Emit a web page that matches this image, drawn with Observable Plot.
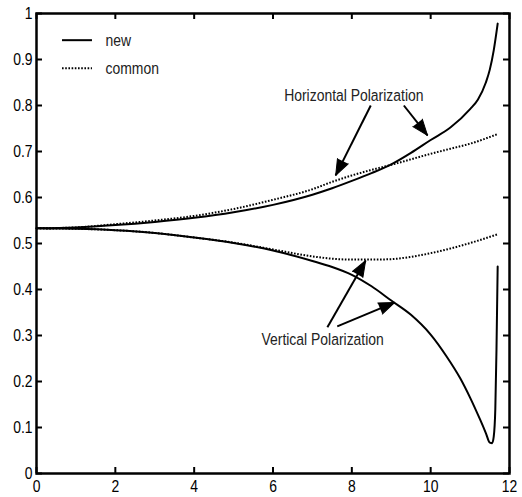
<!DOCTYPE html>
<html><head><meta charset="utf-8">
<script src="https://cdn.jsdelivr.net/npm/d3@7"></script>
<script src="https://cdn.jsdelivr.net/npm/@observablehq/plot@0.6"></script>
<style>body{margin:0;background:#fff}</style>
</head><body><div id="chart"></div>
<script>
// Horizontal polarization, new formula
const hNewX = [0, 1, 2, 3, 4, 5, 6, 7, 7.5, 8, 8.5, 9, 9.5, 10, 10.5, 11, 11.2, 11.4, 11.5, 11.6, 11.7];
const hNewY = [0.533, 0.535, 0.540, 0.547, 0.556, 0.568, 0.584, 0.606, 0.620, 0.636, 0.653, 0.672, 0.697, 0.725, 0.752, 0.792, 0.813, 0.850, 0.878, 0.920, 0.978];
// Horizontal polarization, common formula
const hComX = [0, 1, 2, 3, 4, 5, 6, 7, 7.5, 8, 8.5, 9, 9.5, 10, 10.5, 11, 11.7];
const hComY = [0.533, 0.535, 0.542, 0.550, 0.560, 0.575, 0.595, 0.618, 0.634, 0.648, 0.660, 0.671, 0.683, 0.695, 0.706, 0.717, 0.738];
// Vertical polarization, new formula
const vNewX = [0, 1, 2, 3, 4, 5, 6, 7, 7.5, 8, 8.5, 9, 9.5, 10, 10.4, 10.75, 11, 11.25, 11.4, 11.5, 11.56, 11.6, 11.64, 11.67, 11.7];
const vNewY = [0.533, 0.532, 0.529, 0.523, 0.513, 0.501, 0.485, 0.462, 0.449, 0.432, 0.407, 0.376, 0.345, 0.302, 0.255, 0.207, 0.165, 0.118, 0.088, 0.067, 0.066, 0.080, 0.140, 0.270, 0.450];
// Vertical polarization, common formula
const vComX = [0, 1, 2, 3, 4, 5, 6, 7, 7.5, 8, 8.5, 9, 9.5, 10, 10.5, 11, 11.7];
const vComY = [0.533, 0.532, 0.529, 0.523, 0.513, 0.502, 0.487, 0.472, 0.467, 0.465, 0.465, 0.466, 0.471, 0.479, 0.489, 0.501, 0.520];

const xTicks = [0, 2, 4, 6, 8, 10, 12];
const yTicks = [0, 0.1, 0.2, 0.3, 0.4, 0.5, 0.6, 0.7, 0.8, 0.9, 1];
const legendLabels = ["new", "common"];
const annotationLabels = ["Horizontal Polarization", "Vertical Polarization"];

const W = 522, H = 497;
const mL = 36, mR = 13, mT = 13, mB = 24;
const pw = W - mL - mR, ph = H - mT - mB;
const kx = pw / 12, ky = ph / 1;

const zip = (xs, ys) => xs.map((x, i) => ({x, y: ys[i]}));
const solidStyle = {stroke: "black", strokeWidth: 2};
const dotStyle = {stroke: "black", strokeWidth: 2, strokeDasharray: "1.6,1.6", strokeLinecap: "butt"};

// annotation arrows (data coords)
const arrows = [
  {x1: 8.48, y1: 0.800, x2: 7.59, y2: 0.648},
  {x1: 9.32, y1: 0.800, x2: 9.92, y2: 0.735},
  {x1: 7.38, y1: 0.318, x2: 8.35, y2: 0.463},
  {x1: 7.63, y1: 0.320, x2: 9.09, y2: 0.372}
].map(a => ({...a, rot: Math.atan2((a.x2 - a.x1) * kx, (a.y2 - a.y1) * ky) * 180 / Math.PI}));

const labels = [
  {x: 8.05, y: 0.822, text: annotationLabels[0]},
  {x: 7.26, y: 0.291, text: annotationLabels[1]}
];

const legendY = [0.942, 0.881];

const chart = Plot.plot({
  width: W, height: H,
  marginLeft: mL, marginRight: mR, marginTop: mT, marginBottom: mB,
  style: {fontFamily: "'Liberation Sans', Arial, sans-serif", fontSize: "17px", background: "white", color: "black"},
  x: {domain: [0, 12], label: null},
  y: {domain: [0, 1], label: null},
  marks: [
    Plot.axisX({ticks: xTicks, tickSize: 0, tickPadding: 6, fontSize: 17, label: null}),
    Plot.axisY({ticks: yTicks, tickSize: 0, tickPadding: 4, fontSize: 17, label: null, tickFormat: d => String(d)}),
    Plot.tickX(xTicks, {x: d => d, insetTop: ph - 6, stroke: "black", strokeWidth: 2}),
    Plot.tickX(xTicks, {x: d => d, insetBottom: ph - 6, stroke: "black", strokeWidth: 2}),
    Plot.tickY(yTicks, {y: d => d, insetRight: pw - 6, stroke: "black", strokeWidth: 2}),
    Plot.tickY(yTicks, {y: d => d, insetLeft: pw - 6, stroke: "black", strokeWidth: 2}),
    Plot.line(zip(hComX, hComY), {x: "x", y: "y", curve: "monotone-x", ...dotStyle}),
    Plot.line(zip(vComX, vComY), {x: "x", y: "y", curve: "monotone-x", ...dotStyle}),
    Plot.line(zip(hNewX, hNewY), {x: "x", y: "y", curve: "monotone-x", ...solidStyle}),
    Plot.line(zip(vNewX, vNewY), {x: "x", y: "y", curve: "monotone-x", ...solidStyle}),
    Plot.link(arrows, {x1: "x1", y1: "y1", x2: "x2", y2: "y2", stroke: "black", strokeWidth: 2}),
    Plot.vector(arrows, {x: "x2", y: "y2", rotate: "rot", length: 16, shape: "spike", r: 6, anchor: "end", fill: "black", stroke: "black", strokeWidth: 1}),
    Plot.text(labels, {x: "x", y: "y", text: "text", fontSize: 17, fill: "#222"}),
    Plot.ruleY([legendY[0]], {x1: 0.66, x2: 1.42, stroke: "black", strokeWidth: 2}),
    Plot.ruleY([legendY[1]], {x1: 0.66, x2: 1.42, ...dotStyle}),
    Plot.text(legendLabels, {x: 1.75, y: (d, i) => legendY[i], text: d => d, textAnchor: "start", fontSize: 17, fill: "#222"}),
    Plot.frame({stroke: "black", strokeWidth: 2.5})
  ]
});
// narrow the sans-serif glyphs horizontally, as in the reference
chart.querySelectorAll("text").forEach(t => {
  const tr = t.getAttribute("transform");
  if (tr) {
    t.setAttribute("transform", tr + " scale(0.82,1)");
  } else {
    const x = +(t.getAttribute("x") || 0), y = +(t.getAttribute("y") || 0);
    t.removeAttribute("x"); t.removeAttribute("y");
    t.setAttribute("transform", `translate(${x},${y}) scale(0.82,1)`);
  }
});
document.getElementById("chart").append(chart);
</script>
</body></html>
